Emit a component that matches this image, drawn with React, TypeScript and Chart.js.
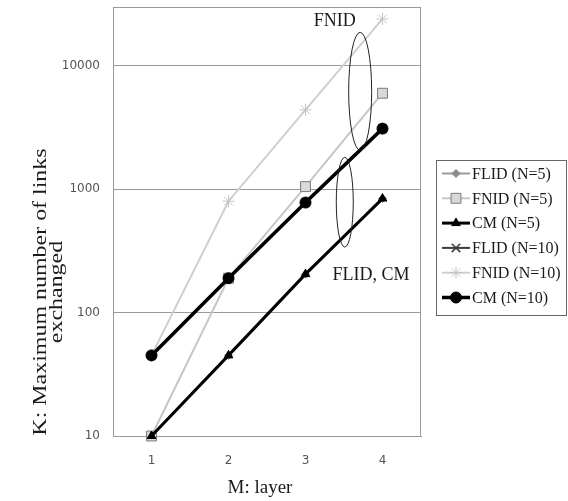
import React, { useEffect, useRef } from 'react';
import { Chart, registerables } from 'chart.js';

Chart.register(...registerables);

// ---- data ----
const layers = ['1', '2', '3', '4'];
const flidN5 = [10, 45, 205, 840];
const fnidN5 = [10, 190, 1050, 6000];
const cmN5 = [10, 45, 205, 840];
const flidN10 = [45, 190, 780, 3100];
const fnidN10 = [45, 800, 4400, 24000];
const cmN10 = [45, 190, 780, 3100];
const yTickValues = [10, 100, 1000, 10000];
const seriesLabels = ['FLID (N=5)', 'FNID (N=5)', 'CM (N=5)', 'FLID (N=10)', 'FNID (N=10)', 'CM (N=10)'];

// annotation callouts (in data coordinates: category index, value)
const ellipseNotes = [
  { x: 2.71, yTop: 18700, yBottom: 2070, rx: 11.5 },
  { x: 2.51, yTop: 1815, yBottom: 340, rx: 8.5 },
];
const textNotes = [
  { text: 'FNID', x: 2.38, y: 23200 },
  { text: 'FLID, CM', x: 2.85, y: 199 },
];

const SERIF = '"Liberation Serif", "Times New Roman", serif';

function drawMarker(ctx: CanvasRenderingContext2D, style: string, x: number, y: number, r: number, fill: string, stroke: string, bw: number) {
  ctx.save();
  ctx.fillStyle = fill;
  ctx.strokeStyle = stroke;
  ctx.lineWidth = bw;
  ctx.beginPath();
  if (style === 'circle') {
    ctx.arc(x, y, r, 0, Math.PI * 2);
    ctx.fill();
    ctx.stroke();
  } else if (style === 'triangle') {
    ctx.moveTo(x, y - r);
    ctx.lineTo(x + r * 0.866, y + r * 0.5);
    ctx.lineTo(x - r * 0.866, y + r * 0.5);
    ctx.closePath();
    ctx.fill();
    ctx.stroke();
  } else if (style === 'rect') {
    const s = r * Math.SQRT1_2;
    ctx.rect(x - s, y - s, 2 * s, 2 * s);
    ctx.fill();
    ctx.stroke();
  } else if (style === 'rectRot') {
    ctx.moveTo(x, y - r);
    ctx.lineTo(x + r, y);
    ctx.lineTo(x, y + r);
    ctx.lineTo(x - r, y);
    ctx.closePath();
    ctx.fill();
    ctx.stroke();
  } else if (style === 'crossRot') {
    const s = r * Math.SQRT1_2;
    ctx.moveTo(x - s, y - s);
    ctx.lineTo(x + s, y + s);
    ctx.moveTo(x - s, y + s);
    ctx.lineTo(x + s, y - s);
    ctx.stroke();
  } else if (style === 'star') {
    const s = r * Math.SQRT1_2;
    ctx.moveTo(x - s, y - s);
    ctx.lineTo(x + s, y + s);
    ctx.moveTo(x - s, y + s);
    ctx.lineTo(x + s, y - s);
    ctx.moveTo(x, y - r);
    ctx.lineTo(x, y + r);
    ctx.moveTo(x - r, y);
    ctx.lineTo(x + r, y);
    ctx.stroke();
  }
  ctx.restore();
}

const extrasPlugin = {
  id: 'extras',
  beforeDatasetsDraw(chart: any) {
    const { ctx, chartArea } = chart;
    ctx.save();
    ctx.strokeStyle = '#9a9a9a';
    ctx.lineWidth = 1;
    ctx.strokeRect(chartArea.left + 0.5, chartArea.top + 0.5, chartArea.right - chartArea.left - 1, chartArea.bottom - chartArea.top);
    ctx.restore();
  },
  afterDraw(chart: any) {
    const { ctx } = chart;
    const xs = chart.scales.x;
    const ys = chart.scales.y;
    ctx.save();
    // ellipses
    ctx.strokeStyle = '#222';
    ctx.lineWidth = 1;
    ellipseNotes.forEach((e) => {
      const cx = xs.getPixelForValue(e.x);
      const t = ys.getPixelForValue(e.yTop);
      const b = ys.getPixelForValue(e.yBottom);
      ctx.beginPath();
      ctx.ellipse(cx, (t + b) / 2, e.rx, (b - t) / 2, 0, 0, Math.PI * 2);
      ctx.stroke();
    });
    // text notes
    ctx.fillStyle = '#1a1a1a';
    ctx.font = `18px ${SERIF}`;
    ctx.textAlign = 'center';
    ctx.textBaseline = 'middle';
    textNotes.forEach((n) => {
      ctx.fillText(n.text, xs.getPixelForValue(n.x), ys.getPixelForValue(n.y));
    });

    // axis titles
    ctx.font = `19px ${SERIF}`;
    ctx.fillStyle = '#1a1a1a';
    ctx.fillText('M: layer', 260, 488);
    ctx.save();
    ctx.translate(41, 292);
    ctx.rotate(-Math.PI / 2);
    ctx.scale(1.26, 1);
    ctx.fillText('K: Maximum number of links', 0, 0);
    ctx.fillText('exchanged', 0, 16);
    ctx.restore();

    // legend
    const lx = 436, ly = 160, lw = 130, lh = 155;
    ctx.fillStyle = '#fff';
    ctx.fillRect(lx, ly, lw, lh);
    ctx.strokeStyle = '#666';
    ctx.lineWidth = 1;
    ctx.strokeRect(lx + 0.5, ly + 0.5, lw, lh);
    ctx.font = `16px ${SERIF}`;
    ctx.textAlign = 'left';
    ctx.textBaseline = 'middle';
    chart.data.datasets.forEach((ds: any, i: number) => {
      const y = ly + 13.5 + i * 24.8;
      ctx.strokeStyle = ds.borderColor;
      ctx.lineWidth = ds.borderWidth;
      ctx.beginPath();
      ctx.moveTo(lx + 6, y);
      ctx.lineTo(lx + 34, y);
      ctx.stroke();
      drawMarker(ctx, ds.pointStyle, lx + 20, y, ds.pointRadius, ds.pointBackgroundColor, ds.pointBorderColor, ds.pointBorderWidth);
      ctx.fillStyle = '#1a1a1a';
      ctx.fillText(ds.label, lx + 36, y + 1);
    });
    ctx.restore();
  },
};

export default function App() {
  const ref = useRef<HTMLCanvasElement | null>(null);
  useEffect(() => {
    if (!ref.current) return;
    const chart = new Chart(ref.current, {
      type: 'line',
      data: {
        labels: layers,
        datasets: [
          {
            label: seriesLabels[0], data: flidN5, order: 4,
            borderColor: '#9a9a9a', borderWidth: 2,
            pointStyle: 'rectRot', pointRadius: 4, pointBackgroundColor: '#8c8c8c', pointBorderColor: '#8c8c8c', pointBorderWidth: 1,
          },
          {
            label: seriesLabels[1], data: fnidN5, order: 3,
            borderColor: '#c6c6c6', borderWidth: 2,
            pointStyle: 'rect', pointRadius: 7, pointBackgroundColor: '#d9d9d9', pointBorderColor: '#7a7a7a', pointBorderWidth: 1,
          },
          {
            label: seriesLabels[2], data: cmN5, order: 0,
            borderColor: '#000', borderWidth: 3,
            pointStyle: 'triangle', pointRadius: 5, pointBackgroundColor: '#000', pointBorderColor: '#000', pointBorderWidth: 1,
          },
          {
            label: seriesLabels[3], data: flidN10, order: 5,
            borderColor: '#3c3c3c', borderWidth: 2,
            pointStyle: 'crossRot', pointRadius: 6, pointBackgroundColor: '#3c3c3c', pointBorderColor: '#3c3c3c', pointBorderWidth: 1.5,
          },
          {
            label: seriesLabels[4], data: fnidN10, order: 2,
            borderColor: '#cfcfcf', borderWidth: 2,
            pointStyle: 'star', pointRadius: 6, pointBackgroundColor: '#c4c4c4', pointBorderColor: '#c4c4c4', pointBorderWidth: 1,
          },
          {
            label: seriesLabels[5], data: cmN10, order: 1,
            borderColor: '#000', borderWidth: 3.5,
            pointStyle: 'circle', pointRadius: 5.5, pointBackgroundColor: '#000', pointBorderColor: '#000', pointBorderWidth: 1,
          },
        ].map((d) => ({ ...d, tension: 0, fill: false, clip: false as any, pointHoverRadius: d.pointRadius })),
      },
      options: {
        responsive: false,
        animation: false,
        events: [],
        layout: { autoPadding: false, padding: { left: 0, top: 7, right: 147, bottom: 0 } },
        plugins: { legend: { display: false }, tooltip: { enabled: false }, title: { display: false } },
        scales: {
          x: {
            type: 'category',
            offset: true,
            grid: { display: false, drawTicks: false },
            border: { display: true, color: '#9a9a9a' },
            ticks: { padding: 18, color: '#555', font: { family: '"DejaVu Sans", Verdana, sans-serif', size: 12 } },
            afterFit: (s: any) => { s.height = 65; s.paddingLeft = 0; s.paddingRight = 0; s.paddingTop = 0; s.paddingBottom = 0; },
          },
          y: {
            type: 'logarithmic',
            min: 10,
            max: 30000,
            afterBuildTicks: (s: any) => { s.ticks = yTickValues.map((v) => ({ value: v, major: true })); },
            grid: { color: '#9a9a9a', drawTicks: false, lineWidth: 1 },
            border: { display: true, color: '#9a9a9a' },
            ticks: {
              padding: 13, color: '#555', autoSkip: false,
              font: { family: '"DejaVu Sans", Verdana, sans-serif', size: 12 },
              callback: (v: any) => String(v),
            },
            afterFit: (s: any) => { s.width = 113; s.paddingTop = 0; s.paddingBottom = 0; s.paddingLeft = 0; s.paddingRight = 0; },
          },
        },
      },
      plugins: [extrasPlugin],
    });
    return () => chart.destroy();
  }, []);
  return (
    <div style={{ position: 'fixed', left: 0, top: 0, width: 568, height: 501, background: '#fff' }}>
      <canvas ref={ref} width={568} height={501} style={{ display: 'block', width: 568, height: 501 }} />
    </div>
  );
}
